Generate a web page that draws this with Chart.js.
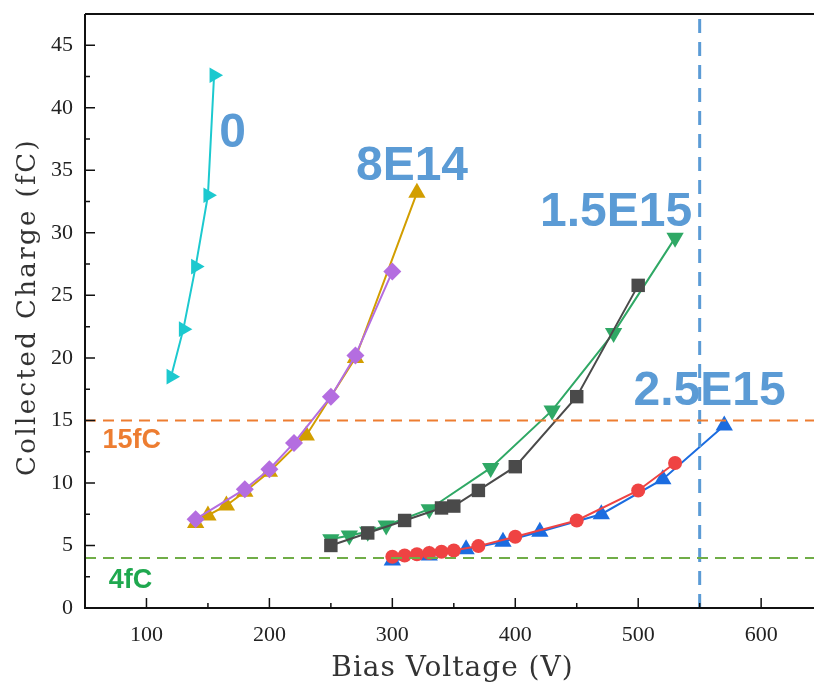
<!DOCTYPE html>
<html lang="en">
<head>
    <meta charset="UTF-8">
    <script src="https://cdn.jsdelivr.net/npm/chart.js"></script>
    <title>Collected Charge</title>
    <style>
        html, body { margin: 0; padding: 0; background: #fff; overflow: hidden; }
        #wrap { width: 814px; height: 687px; position: relative; overflow: hidden; }
        canvas { display: block; }
    </style>
</head>
<body>
    <div id="wrap"><canvas id="chargeChart"></canvas></div>
    <script>
        // fluence 0
        const v0 = [120, 130, 140, 150, 155];
        const q0 = [18.5, 22.3, 27.3, 33.0, 42.6];
        // 8E14 (two samples)
        const v8a = [140, 180, 200, 220, 250, 270, 300];
        const q8a = [7.1, 9.5, 11.1, 13.2, 16.9, 20.2, 26.9];
        const v8b = [140, 150, 165, 180, 200, 230, 270, 320];
        const q8b = [6.8, 7.4, 8.2, 9.3, 10.9, 13.8, 20.0, 33.2];
        // 1.5E15
        const v15a = [250, 280, 310, 340, 350, 370, 400, 450, 500];
        const q15a = [5.0, 6.0, 7.0, 8.0, 8.15, 9.4, 11.3, 16.9, 25.8];
        const v15b = [250, 265, 280, 295, 330, 380, 430, 480, 530];
        const q15b = [5.5, 5.8, 6.1, 6.6, 7.9, 11.2, 15.8, 22.0, 29.6];
        // 2.5E15
        const v25a = [300, 310, 320, 330, 340, 350, 370, 400, 450, 500, 530];
        const q25a = [4.1, 4.2, 4.3, 4.4, 4.5, 4.6, 4.95, 5.7, 7.0, 9.4, 11.6];
        const v25b = [300, 330, 360, 390, 420, 470, 520, 570];
        const q25b = [3.8, 4.2, 4.7, 5.3, 6.1, 7.5, 10.3, 14.6];

        const xTicks = [100, 200, 300, 400, 500, 600];
        const yTicks = [0, 5, 10, 15, 20, 25, 30, 35, 40, 45];
        const xMin = 50, xMax = 643, yMin = 0, yMax = 47.5;

        const thresholds = [15, 4];
        const voltageLimit = 550;

        const xTitle = 'Bias Voltage (V)';
        const yTitle = 'Collected Charge (fC)';

        const noteTexts = ['0', '8E14', '1.5E15', '2.5E15', '15fC', '4fC'];
        const noteX = [170, 316, 482, 558, 88, 87];
        const noteY = [37.9, 35.3, 31.6, 17.3, 13.4, 2.2];

        function pts(xs, ys) {
            return xs.map((x, i) => ({ x: x, y: ys[i] }));
        }

        function series(xs, ys, color, style, rot, r) {
            return {
                data: pts(xs, ys),
                showLine: true,
                borderColor: color,
                backgroundColor: color,
                borderWidth: 2,
                pointStyle: style,
                rotation: rot,
                pointRadius: r,
                pointBorderWidth: 0
            };
        }

        function refLine(data, color, width, dash) {
            return {
                data: data,
                showLine: true,
                borderColor: color,
                borderWidth: width,
                borderDash: dash,
                pointRadius: 0
            };
        }

        const datasets = [
            refLine([{ x: xMin, y: thresholds[0] }, { x: xMax, y: thresholds[0] }], '#ed7d31', 2, [11, 7]),
            refLine([{ x: xMin, y: thresholds[1] }, { x: xMax, y: thresholds[1] }], '#70ad47', 2, [11, 7]),
            refLine([{ x: voltageLimit, y: yMin }, { x: voltageLimit, y: yMax }], '#5b9bd5', 3, [14, 9]),
            series(v0, q0, '#1cc9cf', 'triangle', 90, 9),
            series(v8a, q8a, '#b46de0', 'rectRot', 0, 9),
            series(v8b, q8b, '#d29e00', 'triangle', 0, 10),
            series(v15a, q15a, '#4a4a4a', 'rect', 0, 9.5),
            series(v15b, q15b, '#2fa865', 'triangle', 180, 10),
            series(v25a, q25a, '#ef4343', 'circle', 0, 7),
            series(v25b, q25b, '#1b6ce0', 'triangle', 0, 10)
        ];

        // axes with inward ticks, top border, axis titles and text notes
        const framePlugin = {
            id: 'frame',
            afterDatasetsDraw(chart) {
                const ctx = chart.ctx;
                const a = chart.chartArea;
                const xs = chart.scales.x, ys = chart.scales.y;
                ctx.save();
                ctx.strokeStyle = '#111';
                ctx.lineWidth = 2;
                ctx.beginPath();
                ctx.moveTo(a.left, a.top);
                ctx.lineTo(a.left, a.bottom);
                ctx.lineTo(a.right, a.bottom);
                ctx.moveTo(a.left, a.top);
                ctx.lineTo(a.right, a.top);
                ctx.stroke();
                ctx.lineWidth = 1.5;
                ctx.beginPath();
                for (let v = 100; v <= xMax; v += 50) {
                    const px = xs.getPixelForValue(v);
                    const len = v % 100 === 0 ? 10 : 5;
                    ctx.moveTo(px, a.bottom);
                    ctx.lineTo(px, a.bottom - len);
                }
                for (let v = 2.5; v <= yMax; v += 2.5) {
                    const py = ys.getPixelForValue(v);
                    const len = v % 5 === 0 ? 10 : 5;
                    ctx.moveTo(a.left, py);
                    ctx.lineTo(a.left + len, py);
                }
                ctx.stroke();

                // axis titles
                ctx.fillStyle = '#333';
                ctx.textAlign = 'center';
                ctx.textBaseline = 'middle';
                ctx.font = '28px "DejaVu Serif", serif';
                ctx.letterSpacing = '1px';
                ctx.fillText(xTitle, (a.left + a.right) / 2 + 3, 669);
                ctx.save();
                ctx.translate(28, (a.top + a.bottom) / 2 - 4);
                ctx.rotate(-Math.PI / 2);
                ctx.font = '26px "DejaVu Serif", serif';
                ctx.letterSpacing = '2.4px';
                ctx.fillText(yTitle, 0, 0);
                ctx.restore();
                ctx.letterSpacing = '0px';

                const colors = ['#5b9bd5', '#5b9bd5', '#5b9bd5', '#5b9bd5', '#ed7d31', '#1fa84f'];
                const sizes = [48, 48, 48, 48, 27, 27];
                noteTexts.forEach((t, i) => {
                    ctx.fillStyle = colors[i];
                    ctx.font = 'bold ' + sizes[i] + 'px "Liberation Sans", Arial, sans-serif';
                    ctx.fillText(t, xs.getPixelForValue(noteX[i]), ys.getPixelForValue(noteY[i]));
                });
                ctx.restore();
            }
        };

        new Chart(document.getElementById('chargeChart'), {
            type: 'scatter',
            data: { datasets: datasets },
            options: {
                responsive: true,
                maintainAspectRatio: false,
                animation: false,
                layout: { autoPadding: false, padding: { top: 14, right: 0, left: 0, bottom: 0 } },
                plugins: { legend: { display: false }, tooltip: { enabled: false } },
                scales: {
                    x: {
                        type: 'linear',
                        min: xMin,
                        max: xMax,
                        grid: { display: false, drawTicks: false },
                        border: { display: false },
                        afterBuildTicks: s => { s.ticks = xTicks.map(v => ({ value: v })); },
                        afterFit: s => {
                            s.height = 79;
                            s.paddingLeft = 0;
                            s.paddingRight = 0;
                        },
                        ticks: {
                            padding: 14,
                            color: '#222',
                            font: { family: '"Liberation Serif", serif', size: 22 }
                        }
                    },
                    y: {
                        type: 'linear',
                        min: yMin,
                        max: yMax,
                        grid: { display: false, drawTicks: false },
                        border: { display: false },
                        afterBuildTicks: s => { s.ticks = yTicks.map(v => ({ value: v })); },
                        afterFit: s => {
                            s.width = 85;
                            s.paddingTop = 0;
                            s.paddingBottom = 0;
                        },
                        ticks: {
                            padding: 12,
                            color: '#222',
                            font: { family: '"Liberation Serif", serif', size: 22 }
                        }
                    }
                }
            },
            plugins: [framePlugin]
        });
    </script>
</body>
</html>
